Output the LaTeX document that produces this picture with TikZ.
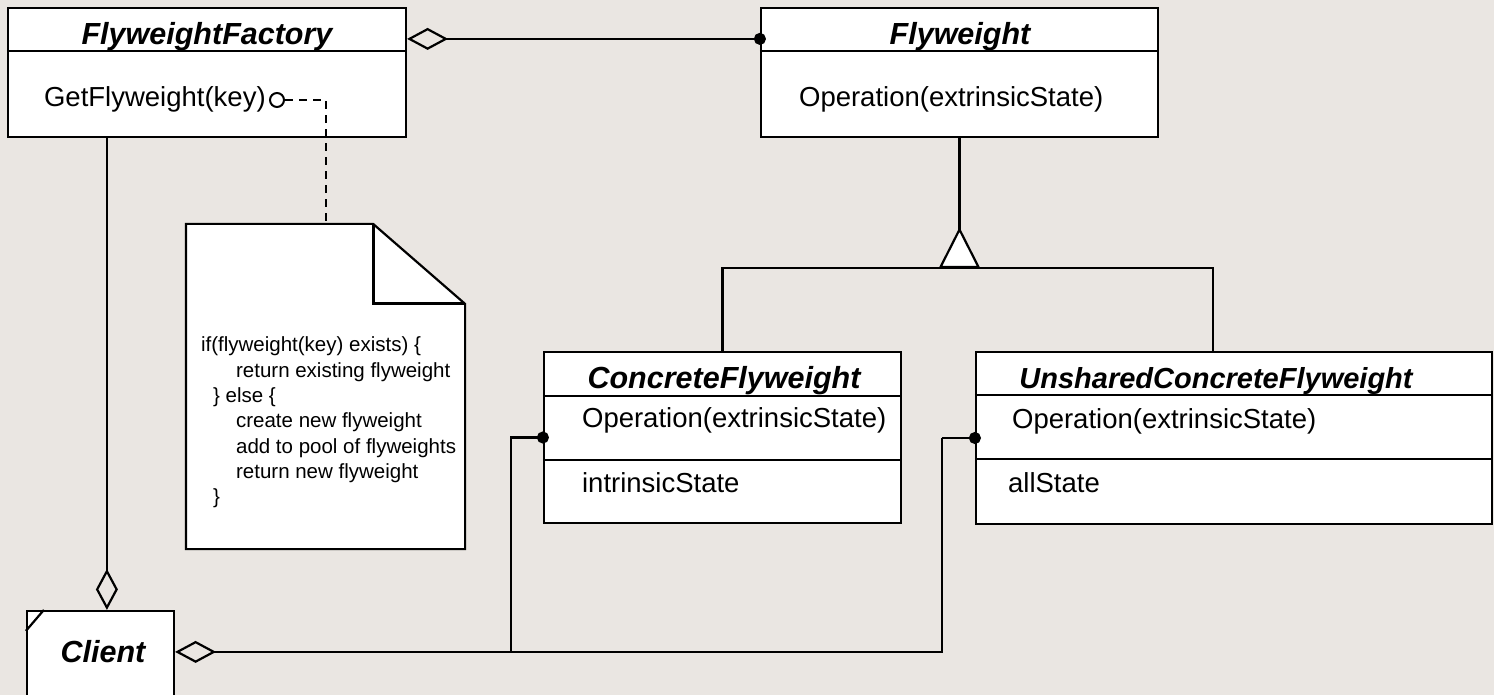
\documentclass[tikz,border=0pt]{standalone}
\usepackage{fontspec}
\setmainfont{Liberation Sans}
\usetikzlibrary{arrows.meta,calc}
\definecolor{bg}{RGB}{234,230,226}
\begin{document}
\begin{tikzpicture}[x=1pt,y=-1pt,line width=2.2pt,
  box/.style={draw,fill=white,inner sep=0pt,line width=2.2pt},
  ttl/.style={inner sep=0pt,anchor=base,font=\fontsize{30.5}{36}\selectfont\bfseries\itshape},
  txt/.style={inner sep=0pt,anchor=base west,font=\fontsize{27.5}{33}\selectfont},
  ntxt/.style={inner sep=0pt,anchor=base west,font=\fontsize{20.5}{25}\selectfont},
  aggline/.style={{Diamond[open,length=41pt,width=22pt]}-},
  aggdot/.style={{Diamond[open,length=41pt,width=22pt]}-{Circle[length=12pt,width=12pt]},shorten >=-6pt},
  dotend/.style={-{Circle[length=12pt,width=12pt]},shorten >=-6pt},
  dashline/.style={dash pattern=on 8pt off 6pt,line width=2pt}]
\useasboundingbox (0,0) rectangle (1494,695);
\fill[bg] (0,0) rectangle (1494,695);
\clip (0,0) rectangle (1494,695);

% class boxes
\node[box,minimum width=398pt,minimum height=129pt] (ff) at (207,72.5) {};
\node[box,minimum width=397pt,minimum height=129pt] (fw) at (959.5,72.5) {};
\node[box,minimum width=357pt,minimum height=171pt] (cf) at (722.5,437.5) {};
\node[box,minimum width=516pt,minimum height=172pt] (ucf) at (1234,438) {};
\node[box,minimum width=147pt,minimum height=109pt] (client) at (100.5,665.5) {};
\node[inner sep=0pt,minimum width=277pt,minimum height=323pt] (note) at (325.5,386.5) {};

% compartments
\draw ($(ff.north west)+(0,44)$) -- ($(ff.north east)+(0,44)$);
\draw ($(fw.north west)+(0,44)$) -- ($(fw.north east)+(0,44)$);
\draw ($(cf.north west)+(0,45)$) -- ($(cf.north east)+(0,45)$);
\draw ($(cf.north west)+(0,109)$) -- ($(cf.north east)+(0,109)$);
\draw ($(ucf.north west)+(0,44)$) -- ($(ucf.north east)+(0,44)$);
\draw ($(ucf.north west)+(0,108)$) -- ($(ucf.north east)+(0,108)$);
\draw ($(client.north west)+(18,0)$) -- ($(client.north west)+(0,21)$);

% texts
\node[ttl] (ffT) at (207,45) {FlyweightFactory};
\node[txt] (ffop) at (43,107) {GetFlyweight(key)};
\node[ttl] (fwT) at (960,45) {Flyweight};
\node[txt] (fwop) at (798,107) {Operation(extrinsicState)};
\node[ttl] (cfT) at (724,388) {ConcreteFlyweight};
\node[txt] (cfop) at (581,427) {Operation(extrinsicState)};
\node[txt] (cfst) at (581,492) {intrinsicState};
\node[ttl,font=\fontsize{29}{34}\selectfont\bfseries\itshape] (ucfT) at (1216,388) {UnsharedConcreteFlyweight};
\node[txt] (ucfop) at (1011,428) {Operation(extrinsicState)};
\node[txt] (ucfst) at (1007,492) {allState};
\node[ttl] (clT) at (103,662) {Client};

% note
\draw[fill=white] (note.north west) -- ($(note.north east)+(-92,0)$) -- ($(note.north east)+(0,80)$) -- (note.south east) -- (note.south west) -- cycle;
\draw[line width=3pt] ($(note.north east)+(-92,0)$) -- ($(note.north east)+(-92,80)$) -- ($(note.north east)+(0,80)$);
\node[ntxt] (n1) at (200,351) {if(flyweight(key) exists) \{};
\node[ntxt] (n2) at (235,377) {return existing flyweight};
\node[ntxt] (n3) at (212,402) {\} else \{};
\node[ntxt] (n4) at (235,427) {create new flyweight};
\node[ntxt] (n5) at (235,453) {add to pool of flyweights};
\node[ntxt] (n6) at (235,478) {return new flyweight};
\node[ntxt] (n7) at (212,503) {\}};

% note link
\node[circle,draw,fill=white,line width=2pt,minimum size=14pt,inner sep=0pt] (gfc) at (277,100) {};
\draw[dashline] (gfc.east) -| (note.north);

% FlyweightFactory -> Flyweight
\draw[aggdot] ($(ff.north east)+(0,32)$) -- ($(fw.north west)+(0,32)$);

% inheritance
\coordinate (j) at ($(fw.south)+(0,130)$);
\draw[-{Triangle[fill=white,reversed,length=41pt,width=41pt]}] (fw.south) -- (j);
\draw (cf.north) |- (j) -| ($(ucf.north west)+(238,0)$);

% Client -> FlyweightFactory
\draw[aggline] ($(client.north west)+(81,0)$) -- ($(ff.south west)+(100,0)$);

% Client -> flyweights
\coordinate (cle) at ($(client.north east)+(0,42)$);
\coordinate (ucfj) at ($(ucf.west)+(-33,0)$);
\coordinate (cfj) at ($(cf.west)+(-32,0)$);
\draw[aggline] (cle) -| (ucfj);
\draw[dotend] (ucfj) -- (ucf.west);
\draw[dotend] (cfj |- cle) |- (cf.west);
\end{tikzpicture}
\end{document}
